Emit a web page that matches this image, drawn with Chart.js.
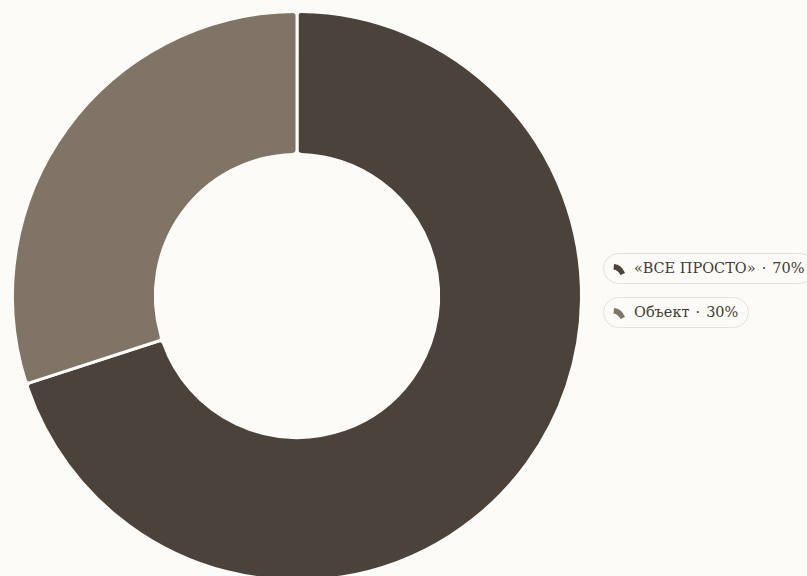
<!DOCTYPE html>
<html><head><meta charset="utf-8">
<script src="https://cdn.jsdelivr.net/npm/chart.js@4.4.0/dist/chart.umd.min.js"></script>
<style>
html,body{margin:0;padding:0;background:#fcfbf7;width:807px;height:576px;overflow:hidden;position:relative;}
#cw{position:absolute;left:0;top:0;width:594px;height:592px;}
#legend{position:absolute;left:603px;top:253px;display:flex;flex-direction:column;align-items:flex-start;gap:13px;}
.item{display:flex;align-items:center;border:1px solid #e6e1d8;border-radius:16px;padding:6px 10px 6px 9px;line-height:17px;font-family:"DejaVu Serif",serif;font-size:14.5px;color:#433b35;white-space:nowrap;background:#fcfbf7;}
.item svg{margin-right:8px;}
.sep{margin:0 6px;}
</style></head><body>
<div id="cw"><canvas id="c"></canvas></div><div id="legend"></div>
<script>
const categories = ["«ВСЕ ПРОСТО»", "Объект"];
const values = [70, 30];
const colors = ["#4a423b", "#7f7466"];

const ctx = document.getElementById('c');
new Chart(ctx, {
  type: 'doughnut',
  data: { labels: categories, datasets: [{ data: values, backgroundColor: colors, borderColor: '#fcfbf7', borderWidth: 3, borderRadius: 4, hoverOffset: 0 }] },
  options: {
    responsive: true, maintainAspectRatio: false, animation: false,
    cutout: '49.8%',
    layout: { padding: 10 },
    plugins: { legend: { display: false }, tooltip: { enabled: false } }
  }
});
const total = values.reduce((a,b)=>a+b,0);
const leg = document.getElementById('legend');
categories.forEach((c,i)=>{
  const d = document.createElement('div'); d.className='item';
  const pct = Math.round(values[i]/total*100);
  d.innerHTML = '<svg width="13" height="12" viewBox="0 0 13 12"><path d="M1 1 Q8.5 1.5 12 10 L7.5 12 Q5 7 0.5 6.5 Z" fill="'+colors[i]+'"/></svg>';
  const t = document.createElement('span'); t.textContent = c;
  const s = document.createElement('span'); s.className='sep'; s.textContent = '·';
  const p = document.createElement('span'); p.textContent = pct + '%';
  d.appendChild(t); d.appendChild(s); d.appendChild(p);
  leg.appendChild(d);
});
</script>
</body></html>
